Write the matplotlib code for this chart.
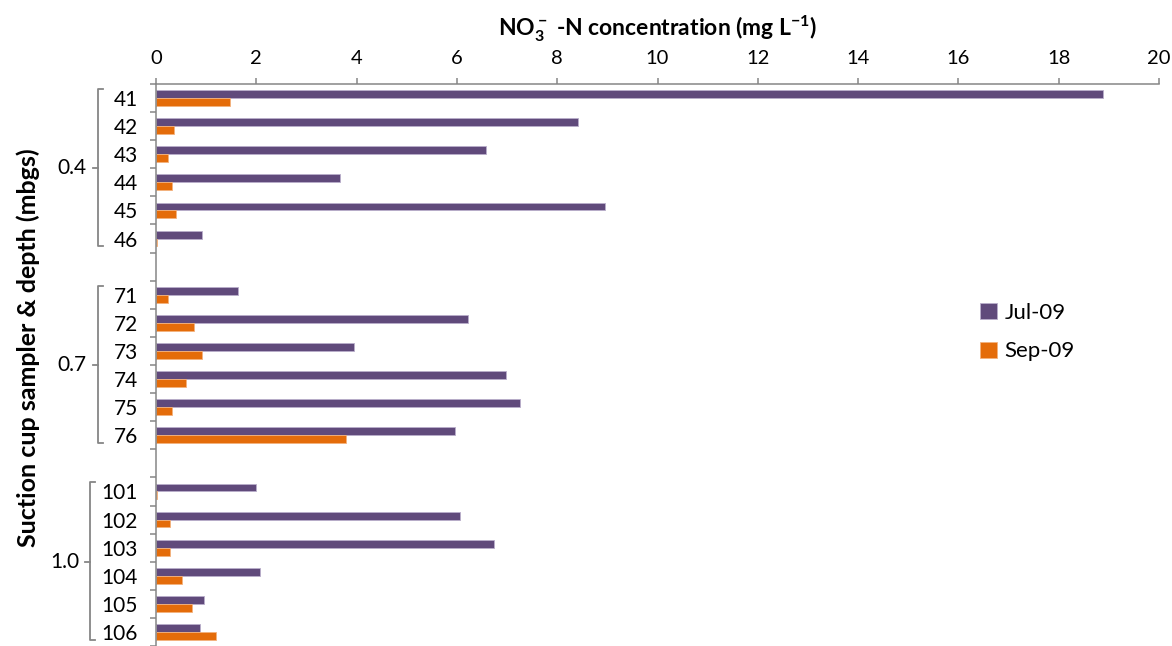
import matplotlib
matplotlib.use("Agg")
import matplotlib.pyplot as plt
import numpy as np

# values
samplers = ["41", "42", "43", "44", "45", "46",
            "71", "72", "73", "74", "75", "76",
            "101", "102", "103", "104", "105", "106"]
depths = ["0.4", "0.7", "1.0"]
jul09 = [18.89, 8.41, 6.58, 3.67, 8.96, 0.91,
         1.63, 6.22, 3.95, 6.97, 7.25, 5.97,
         1.99, 6.06, 6.74, 2.07, 0.96, 0.88]
sep09 = [1.48, 0.36, 0.23, 0.32, 0.39, 0.02,
         0.23, 0.75, 0.91, 0.60, 0.32, 3.78,
         0.02, 0.27, 0.27, 0.52, 0.71, 1.19]
xticks = [0, 2, 4, 6, 8, 10, 12, 14, 16, 18, 20]

plt.rcParams['font.family'] = ['Lato', 'DejaVu Sans']
plt.rcParams['mathtext.default'] = 'regular'

purple = "#604A7B"
orange = "#E46C0A"
gray = "#868686"

# 6 samplers per depth, one empty slot between groups
pos = np.array([i + i // 6 for i in range(len(samplers))])
h = 0.28

fig = plt.figure(figsize=(11.72, 6.46), dpi=100)
ax = fig.add_axes([156 / 1172, 0.0, 1003 / 1172, 1 - 84 / 646])

ax.barh(pos - h / 2, jul09, height=h, color=purple, edgecolor="#b9aecb",
        linewidth=0.6, label="Jul-09")
ax.barh(pos + h / 2, sep09, height=h, color=orange, edgecolor="#f3b27e",
        linewidth=0.6, label="Sep-09")

ax.set_xlim(0, 20)
ax.set_ylim(19.5, -0.5)
ax.xaxis.tick_top()
ax.xaxis.set_label_position("top")
ax.set_xticks(xticks)
ax.tick_params(axis="x", direction="out", length=4, width=1.1, color=gray,
               labelsize=14.5, pad=8)
ax.set_xlabel(r"NO$_3^-$ -N concentration (mg L$^{-1}$)", fontsize=16.5,
              fontweight="bold", labelpad=10)

ax.set_yticks(pos)
ax.set_yticklabels(samplers)
ax.tick_params(axis="y", which="major", length=0, labelsize=15, pad=13)
ax.set_yticks(np.arange(-0.5, 20, 1), minor=True)
ax.tick_params(axis="y", which="minor", direction="out", length=4, width=1.1,
               color=gray)

for s in ["right", "bottom"]:
    ax.spines[s].set_visible(False)
for s in ["top", "left"]:
    ax.spines[s].set_color(gray)
    ax.spines[s].set_linewidth(1.1)

# depth brackets (pixel x of bracket line per group)
tr = ax.get_yaxis_transform()
bracket_px = [98, 98, 90]
for g, d in enumerate(depths):
    bx = (bracket_px[g] - 156) / 1003
    ex = bx + 5 / 1003
    mx = bx - 5 / 1003
    top = g * 7 - 0.32
    bot = g * 7 + 5.27
    mid = g * 7 + 2.5
    ax.plot([ex, bx, bx, ex], [top, top, bot, bot], color=gray, lw=1.3,
            transform=tr, clip_on=False)
    ax.plot([mx, bx], [mid, mid], color=gray, lw=1.3, transform=tr,
            clip_on=False)
    ax.text(mx - 6 / 1003, mid, d, transform=tr, ha="right",
            va="center", fontsize=15)

fig.text(28 / 1172, 1 - 348 / 646, "Suction cup sampler & depth (mbgs)",
         rotation=90, ha="center", va="center", fontsize=18,
         fontweight="bold")

ax.legend(loc="center left", bbox_to_anchor=(960 / 1172, 1 - 332 / 646),
          bbox_transform=fig.transFigure, frameon=False, fontsize=16,
          handlelength=0.75, handleheight=0.75, handletextpad=0.35,
          labelspacing=0.85)

fig.savefig("out.png", dpi=100)
